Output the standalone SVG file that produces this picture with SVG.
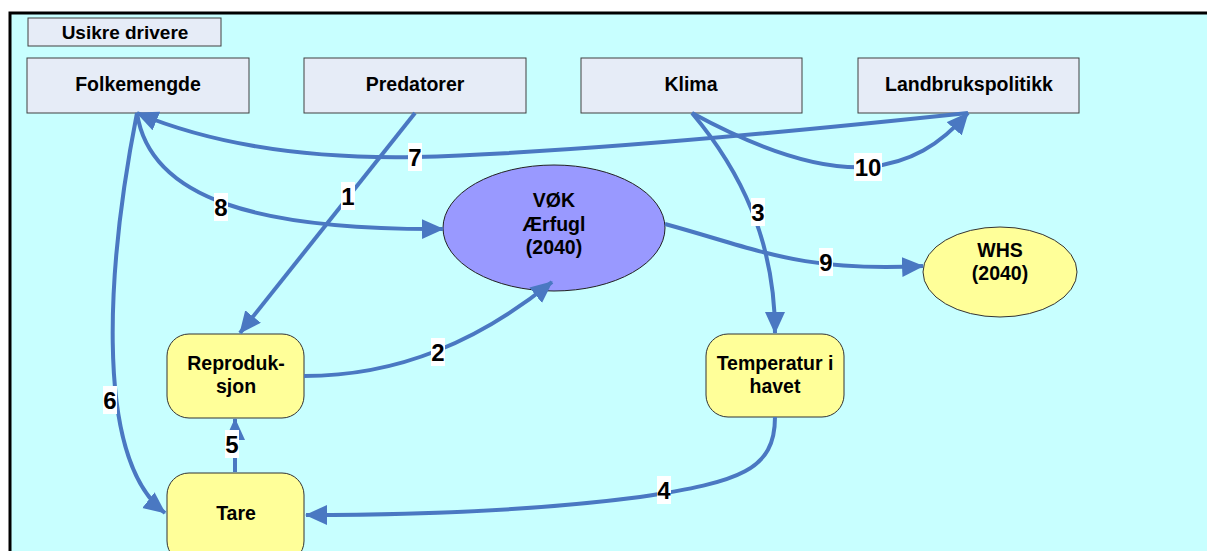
<svg xmlns="http://www.w3.org/2000/svg" width="1207" height="551" viewBox="0 0 1207 551">
<defs>
<style>
.t{font-family:"Liberation Sans",Arial,sans-serif;font-weight:bold;fill:#000;text-anchor:middle}
.nt{font-size:19.5px}
.box{fill:#E6ECF7;stroke:#404040;stroke-width:1}
.yel{fill:#FFFF99;stroke:#333;stroke-width:1}
.c{fill:none;stroke:#4A78C2;stroke-width:4;marker-end:url(#ah)}
.lb{fill:#fff}
.ln{font-size:24px}
</style>
<marker id="ah" markerUnits="userSpaceOnUse" markerWidth="26" markerHeight="22" refX="21" refY="10" orient="auto">
<path d="M0,0 L22,10 L0,20 Z" fill="#4A78C2"/>
</marker>
</defs>
<rect x="0" y="0" width="1207" height="551" fill="#fff"/>
<rect x="10" y="13" width="1210" height="560" fill="#C8FFFF" stroke="#000" stroke-width="3"/>

<g id="usikre">
<rect class="box" x="28" y="18" width="193" height="28"/>
<text class="t" x="125" y="39" font-size="19">Usikre drivere</text>
</g>
<g id="folkemengde">
<rect class="box" x="27" y="58" width="222" height="55"/>
<text class="t nt" x="138" y="91">Folkemengde</text>
</g>
<g id="predatorer">
<rect class="box" x="304" y="58" width="222" height="55"/>
<text class="t nt" x="415" y="91">Predatorer</text>
</g>
<g id="klima">
<rect class="box" x="581" y="58" width="221" height="55"/>
<text class="t nt" x="691" y="91">Klima</text>
</g>
<g id="landbrukspolitikk">
<rect class="box" x="858" y="58" width="221" height="55"/>
<text class="t nt" x="969" y="91">Landbrukspolitikk</text>
</g>
<g id="vok">
<ellipse cx="554" cy="228" rx="111" ry="63" fill="#9999FF" stroke="#222" stroke-width="1"/>
<text class="t nt" x="554" y="207">VØK</text>
<text class="t nt" x="554" y="231">Ærfugl</text>
<text class="t nt" x="554" y="254">(2040)</text>
</g>
<g id="whs">
<ellipse cx="1000" cy="272" rx="77" ry="45" class="yel"/>
<text class="t nt" x="1000" y="257">WHS</text>
<text class="t nt" x="1000" y="280">(2040)</text>
</g>
<g id="reproduksjon">
<rect class="yel" x="167" y="334" width="137" height="84" rx="22"/>
<text class="t nt" x="236" y="370">Reproduk-</text>
<text class="t nt" x="236" y="393">sjon</text>
</g>
<g id="temperatur">
<rect class="yel" x="706" y="334" width="138" height="83" rx="22"/>
<text class="t nt" x="775" y="370">Temperatur i</text>
<text class="t nt" x="775" y="393">havet</text>
</g>
<g id="tare">
<rect class="yel" x="167" y="473" width="137" height="90" rx="22"/>
<text class="t nt" x="236" y="520">Tare</text>
</g>

<g id="connectors">
<path class="c" d="M415,113 L240,333"/>
<path class="c" d="M304,376 C400,376 480,340 552,282"/>
<path class="c" d="M692,113 C740,170 775,240 775,333"/>
<path class="c" d="M775,417 C775,470 740,482 640,497 C540,510 420,515 306,515"/>
<path class="c" d="M235,472 L235,419"/>
<path class="c" d="M137,113 C110,250 90,455 165,513"/>
<path class="c" d="M968,113 Q600,152 415,157 Q250,160 137,113"/>
<path class="c" d="M137,113 C150,200 260,230 443,229"/>
<path class="c" d="M665,224 C760,250 800,272 923,266"/>
<path class="c" d="M692,113 C760,150 820,170 868,167 C910,163 940,145 968,113"/>
</g>
<g id="labels">
<rect class="lb" x="341" y="182" width="14" height="28"/><text class="t ln" x="348" y="205">1</text>
<rect class="lb" x="431" y="338" width="14" height="28"/><text class="t ln" x="438" y="361">2</text>
<rect class="lb" x="751" y="198" width="14" height="28"/><text class="t ln" x="758" y="221">3</text>
<rect class="lb" x="657" y="476" width="14" height="28"/><text class="t ln" x="664" y="499">4</text>
<rect class="lb" x="225" y="430" width="14" height="28"/><text class="t ln" x="232" y="453">5</text>
<rect class="lb" x="103" y="386" width="14" height="28"/><text class="t ln" x="110" y="409">6</text>
<rect class="lb" x="408" y="143" width="14" height="28"/><text class="t ln" x="415" y="166">7</text>
<rect class="lb" x="214" y="193" width="14" height="28"/><text class="t ln" x="221" y="216">8</text>
<rect class="lb" x="819" y="248" width="14" height="28"/><text class="t ln" x="826" y="271">9</text>
<rect class="lb" x="854" y="153" width="28" height="28"/><text class="t ln" x="868" y="176">10</text>
</g>
</svg>
